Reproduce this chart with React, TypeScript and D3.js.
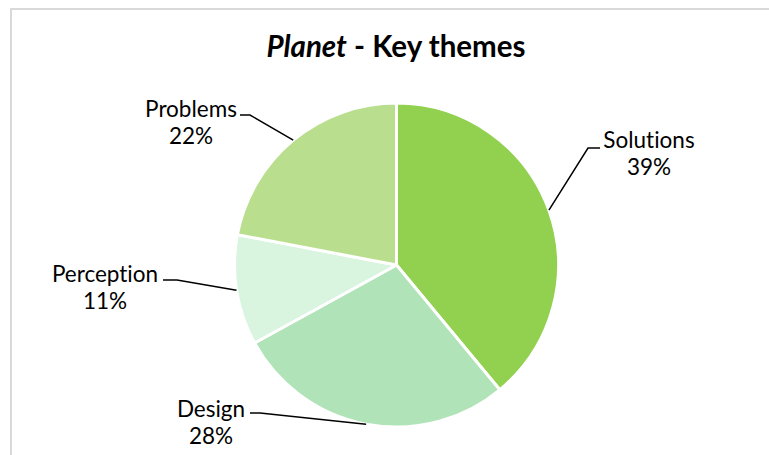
import React from "react";
import * as d3 from "d3";

const categories = ["Solutions", "Design", "Perception", "Problems"];
const values = [39, 28, 11, 22];
const colors = ["#92D050", "#B0E3B8", "#D9F5DF", "#B9DF8E"];

// label layout (positions of text block centre-x, first baseline, and elbow/line end)
const labelLayout = [
  { tx: 649, ty: 148, elbowX: 588, endX: 600, lineY: 148 },
  { tx: 211, ty: 417, elbowX: 260, endX: 250, lineY: 413 },
  { tx: 105, ty: 282, elbowX: 177, endX: 163, lineY: 280 },
  { tx: 191, ty: 117, elbowX: 250, endX: 240, lineY: 115 },
];

const W = 769;
const H = 455;
const cx = 396.5;
const cy = 265;
const R = 162;
const FONT = "Lato, 'Open Sans', sans-serif";
const noLig = { fontVariantLigatures: "none" as const, fontFeatureSettings: "'liga' 0" };

export default function App() {
  const data = categories.map((c, i) => ({ name: c, value: values[i] }));
  const pie = d3.pie<any>().value((d) => d.value).sort(null);
  const arcs = pie(data);
  const arc = d3.arc<any>().innerRadius(0).outerRadius(R);
  const total = d3.sum(values);

  return (
    <svg width={W} height={H} style={{ position: "absolute", left: 0, top: 0 }}>
      <rect x={0} y={0} width={W} height={H} fill="#fff" />
      <rect x={11} y={9} width={W + 10} height={H + 10} fill="none" stroke="#d9d9d9" strokeWidth={2} />
      <text x={396} y={57} textAnchor="middle" fontFamily={FONT} fontSize={29.5} fontWeight="bold" fill="#000" style={noLig}>
        <tspan fontStyle="italic">Planet</tspan>
        <tspan> - Key themes</tspan>
      </text>
      <g transform={`translate(${cx},${cy})`}>
        {arcs.map((a, i) => (
          <path key={i} d={arc(a) as string} fill={colors[i]} stroke="#fff" strokeWidth={3} strokeLinejoin="round" />
        ))}
      </g>
      {arcs.map((a, i) => {
        const mid = (a.startAngle + a.endAngle) / 2;
        const px = cx + R * Math.sin(mid);
        const py = cy - R * Math.cos(mid);
        const L = labelLayout[i];
        const pct = d3.format(".0%")(values[i] / total);
        return (
          <g key={i}>
            <polyline
              points={`${px},${py} ${L.elbowX},${L.lineY} ${L.endX},${L.lineY}`}
              fill="none"
              stroke="#000"
              strokeWidth={1.5}
            />
            <text x={L.tx} y={L.ty} textAnchor="middle" fontFamily={FONT} fontSize={22.5} fill="#000" style={noLig}>
              {categories[i]}
            </text>
            <text x={L.tx} y={L.ty + 27} textAnchor="middle" fontFamily={FONT} fontSize={22.5} fill="#000" style={noLig}>
              {pct}
            </text>
          </g>
        );
      })}
    </svg>
  );
}
